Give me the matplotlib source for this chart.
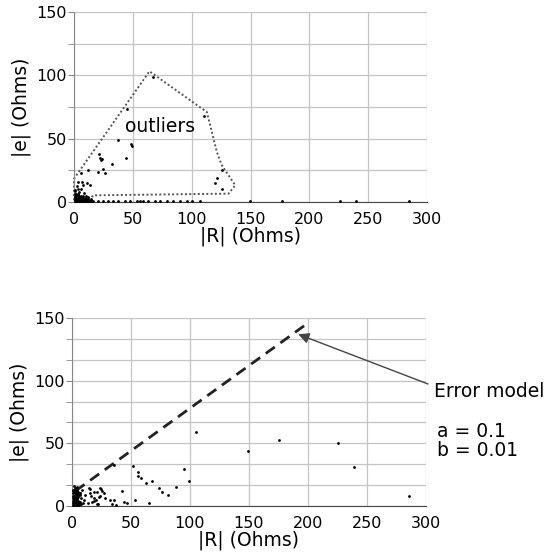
import numpy as np
import matplotlib.pyplot as plt
from matplotlib.ticker import MultipleLocator, FixedLocator

# |R| vs |e| before cleaning (top panel)
top_R = [67.5, 44.8, 110.6, 37.7, 48.5, 49.0, 44.0, 21.5, 22.5, 24.0, 23.0, 32.0,
         20.7, 25.0, 26.4, 11.9, 5.7, 126.0, 121.4, 120.0, 126.0,
         3.7, 6.5, 7.9, 10.8, 13.6, 2.3, 1.0, 4.0, 6.0, 8.5, 10.0, 12.0, 2.0, 5.0,
         7.0, 9.0, 1.5, 3.0, 4.5, 6.0, 0.5, 2.5, 11.0, 14.5, 8.0, 3.5, 1.0,
         16.4, 20.7, 24.9, 29.2, 33.4, 37.7, 43.4, 47.6, 53.3, 56.1, 58.9, 63.2,
         68.8, 73.1, 78.8, 84.4, 90.1, 95.8, 100.0, 107.1, 149.6, 176.5, 226.1,
         239.7, 285.0, 2.0, 5.0, 9.0, 12.5, 14.0,
         1.0, 2.0, 3.0, 4.0, 5.0, 6.0, 7.0, 8.0, 9.0, 10.0, 11.0, 12.0, 13.0,
         1.5, 2.5, 3.5, 4.5, 5.5, 6.5, 7.5, 8.5, 9.5, 10.5, 11.5,
         1.0, 2.0, 3.0, 4.0, 5.0, 6.0, 7.0, 8.0, 9.0, 1.5, 3.0, 4.5, 6.0, 7.5,
         15.0, 13.5, 0.5, 0.5, 0.5]
top_e = [99.0, 73.7, 67.6, 49.2, 45.5, 44.0, 34.5, 38.0, 35.0, 34.0, 33.0, 30.0,
         23.7, 26.0, 22.9, 25.0, 22.9, 25.0, 19.0, 15.3, 10.0,
         16.0, 16.0, 13.6, 14.8, 13.6, 12.5, 9.0, 8.0, 10.0, 7.0, 5.0, 4.0, 6.0,
         4.0, 3.0, 2.5, 3.0, 6.0, 2.0, 1.5, 5.0, 1.0, 2.0, 2.5, 1.0, 10.5, 1.5,
         0.8, 0.6, 0.6, 0.6, 0.6, 0.8, 0.6, 0.6, 0.8, 0.8, 0.8, 0.8,
         0.8, 0.6, 0.6, 0.6, 0.8, 0.8, 0.8, 1.2, 0.8, 1.2, 0.8,
         0.6, 0.6, 0.5, 0.5, 0.5, 0.5, 0.5,
         0.8, 0.8, 0.8, 0.8, 0.8, 0.8, 0.8, 0.8, 0.8, 0.8, 0.8, 0.8, 0.8,
         2.0, 2.0, 2.0, 2.0, 2.0, 2.0, 2.0, 2.0, 2.0, 2.0, 2.0,
         3.5, 3.5, 3.5, 3.5, 3.5, 3.5, 3.5, 3.5, 3.5, 5.0, 5.5, 5.0, 4.5, 5.0,
         0.8, 0.8, 3.0, 6.5, 9.5]

# outlier boundary drawn around the scattered points
poly_R = [0, 0, 64.1, 112.9, 121.4, 125.6, 137.0, 131.3, 16.4, 13.6, 0]
poly_e = [1.3, 18.4, 103.2, 71.0, 39.5, 29.0, 13.2, 6.6, 5.3, 2.6, 1.3]

# |R| vs |e| after cleaning (bottom panel)
bot_R = [105.4, 149.2, 175.7, 225.4, 239.3, 285.3, 51.7, 55.6, 55.9, 58.2, 62.4,
         67.8, 73.7, 76.6, 81.4, 88.1, 94.6, 99.4, 35.9, 42.4, 53.7, 65.0, 46.6,
         43.8, 32.5, 35.3, 33.9, 37.5, 24.9, 26.8, 21.0, 22.6, 15.5, 15.0, 18.4,
         14.0, 21.7, 14.1, 18.3, 16.1, 23.9, 25.4, 18.3, 20.6, 23.4, 28.2, 21.1,
         16.9, 11.3, 9.9,
         1.0, 2.0, 3.0, 4.0, 5.0, 6.0, 1.5, 2.5, 3.5, 4.5, 5.5, 7.0, 0.5, 1.0,
         2.0, 3.0, 4.0, 5.0, 6.5, 8.0, 1.0, 2.5, 4.0, 5.5, 7.5, 3.0, 6.0, 2.0, 9.0,
         0.5, 1.5, 2.5, 3.5, 4.5, 5.5, 6.5, 0.5, 1.5, 2.5, 3.5, 4.5, 5.5,
         1.0, 2.0, 3.0, 4.0, 5.0, 1.0, 2.0, 3.0, 4.0, 2.0, 3.0, 7.0, 8.5]
bot_e = [58.9, 44.0, 52.8, 50.6, 30.9, 8.0, 32.0, 26.9, 24.0, 22.6, 18.7,
         20.0, 14.1, 11.5, 8.8, 15.5, 29.6, 20.0, 33.0, 12.3, 4.5, 2.1, 2.1,
         3.5, 4.8, 4.8, 1.4, 0.8, 13.3, 10.7, 11.0, 7.5, 13.6, 10.0, 4.3,
         2.0, 1.5, 14.4, 11.1, 7.6, 14.4, 12.2, 6.2, 4.9, 7.6, 6.2, 1.4,
         3.5, 9.0, 4.9,
         1.0, 2.0, 3.0, 1.5, 2.5, 1.0, 5.0, 6.0, 7.0, 5.5, 4.0, 3.0, 8.0, 10.0,
         11.0, 12.0, 9.5, 8.5, 10.5, 6.5, 13.0, 14.0, 12.5, 0.8, 1.5, 0.5, 3.5, 0.5, 2.5,
         2.0, 2.5, 3.5, 4.5, 6.0, 7.5, 9.0, 6.5, 7.5, 8.5, 9.5, 10.5, 11.5,
         4.0, 5.0, 6.5, 7.5, 8.5, 12.0, 13.0, 14.5, 15.5, 16.0, 10.0, 10.0, 12.5]

# error model line and its label values
err_R = [3, 200]
err_e = [12, 146]
model_a = 0.1
model_b = 0.01

fig = plt.figure(figsize=(5.49, 5.57), dpi=100)
ax1 = fig.add_axes([0.1348, 0.6373, 0.643, 0.3411])
ax2 = fig.add_axes([0.1311, 0.0916, 0.6448, 0.3375])


def style_axes(ax, minor_y):
    ax.set_xlim(0, 300)
    ax.set_ylim(0, 150)
    ax.xaxis.set_major_locator(MultipleLocator(50))
    ax.yaxis.set_major_locator(MultipleLocator(50))
    ax.yaxis.set_minor_locator(FixedLocator(minor_y))
    ax.grid(True, which='both', color='#c4c4c4', lw=0.9)
    ax.set_axisbelow(True)
    for s in ['top', 'right']:
        ax.spines[s].set_visible(False)
    ax.spines['left'].set_color('#888888')
    ax.spines['bottom'].set_color('#444444')
    ax.tick_params(axis='y', which='both', direction='out', length=4,
                   color='#888888', pad=1, labelsize=11.5)
    ax.tick_params(axis='x', length=0, pad=7, labelsize=11.5)
    ax.set_xlabel('|R| (Ohms)', fontsize=13.5, labelpad=0)
    ax.set_ylabel('|e| (Ohms)', fontsize=13.5, labelpad=4)


style_axes(ax1, [25, 75, 125])
style_axes(ax2, [50 / 3, 100 / 3, 200 / 3, 250 / 3, 350 / 3, 400 / 3])

ax1.scatter(top_R, top_e, s=4, color='black', lw=0, zorder=3, clip_on=False)
ax1.plot(poly_R, poly_e, linestyle=(0, (1, 1.2)), color='#555555', lw=1.4,
         zorder=2, clip_on=False)
ax1.text(73.5, 60, 'outliers', fontsize=13.5, ha='center', va='center')

ax2.scatter(bot_R, bot_e, s=4, color='black', lw=0, zorder=3, clip_on=False)
ax2.plot(err_R, err_e, linestyle=(0, (4, 2.5)), color='#222222', lw=2, zorder=2)

ax2.annotate('', xy=(191.8, 137), xycoords='data',
             xytext=(0.7796, 0.3106), textcoords='figure fraction',
             arrowprops=dict(arrowstyle='-|>', color='#444444', lw=1,
                             mutation_scale=16, shrinkA=0, shrinkB=0),
             annotation_clip=False)
fig.text(0.7905, 0.298, 'Error model', fontsize=13.5, va='center')
fig.text(0.796, 0.2262, 'a = %s' % model_a, fontsize=13.5, va='center')
fig.text(0.796, 0.192, 'b = %s' % model_b, fontsize=13.5, va='center')

fig.savefig('out.png', dpi=100, facecolor='white')
